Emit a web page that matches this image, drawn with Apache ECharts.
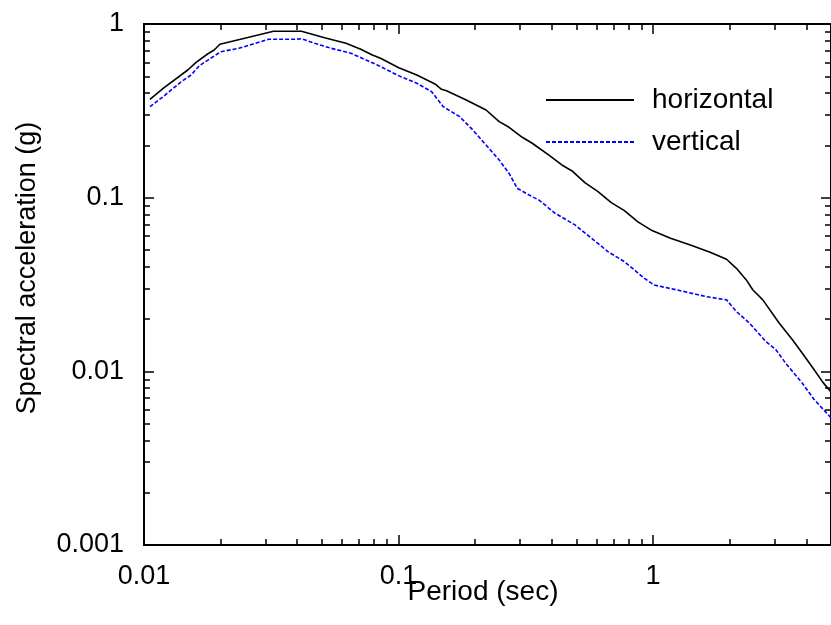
<!DOCTYPE html>
<html>
<head>
<meta charset="utf-8">
<script src="https://cdn.jsdelivr.net/npm/echarts@6/dist/echarts.min.js"></script>
<style>
html,body{margin:0;padding:0;background:#fff;}
#chart{width:831px;height:625px;}
</style>
</head>
<body>
<div id="chart"></div>
<script>
// ---- data ----
var hPeriod = [0.01055,0.01189,0.01486,0.01602,0.01777,0.01887,0.01986,0.02223,0.03227,0.04156,0.05123,0.06216,0.07108,0.07889,0.08498,0.1002,0.1180,0.1390,0.1475,0.1543,0.1845,0.2207,0.2485,0.2718,0.3063,0.3350,0.3886,0.4381,0.4790,0.5395,0.6076,0.6850,0.7716,0.8690,0.9797,1.171,1.401,1.675,1.943,2.125,2.324,2.467,2.698,3.132,3.528,3.858,4.219,4.656,5.0];
var hSa = [0.3685,0.4264,0.5435,0.6019,0.6719,0.7083,0.7640,0.7949,0.9079,0.9079,0.8338,0.7742,0.7150,0.6632,0.6348,0.5603,0.5086,0.4515,0.4207,0.4130,0.3651,0.3198,0.2739,0.2543,0.2227,0.2057,0.1762,0.1543,0.1430,0.1220,0.1083,0.0936,0.0842,0.0728,0.0652,0.0584,0.0534,0.0485,0.0442,0.0392,0.0336,0.0294,0.0258,0.0189,0.0152,0.0127,0.0106,0.00861,0.0076];
var vPeriod = [0.01055,0.01189,0.01401,0.01532,0.01650,0.01887,0.02004,0.02360,0.03086,0.03917,0.04156,0.04683,0.05434,0.06500,0.08253,0.09867,0.1180,0.1350,0.1498,0.1738,0.1959,0.2207,0.2485,0.2718,0.2929,0.3350,0.3554,0.4125,0.4934,0.5729,0.6645,0.7716,0.9226,1.009,1.243,1.625,1.943,2.125,2.395,2.779,3.039,3.324,3.858,4.284,5.0];
var vSa = [0.3341,0.3815,0.4655,0.5086,0.5754,0.6545,0.6925,0.7246,0.8164,0.8164,0.8232,0.7742,0.7246,0.6783,0.5807,0.5086,0.4557,0.4076,0.3341,0.2926,0.2453,0.2011,0.1648,0.1381,0.1132,0.1013,0.0970,0.0813,0.0697,0.0584,0.0489,0.0428,0.0344,0.0314,0.0294,0.0269,0.0258,0.0221,0.0189,0.0148,0.0133,0.0111,0.00854,0.00691,0.0054];

var seriesNames = ['horizontal','vertical'];
var xTickValues = [0.01,0.1,1];
var xTickLabels = ['0.01','0.1','1'];
var xMinorValues = [0.02,0.03,0.04,0.05,0.06,0.07,0.08,0.09,0.2,0.3,0.4,0.5,0.6,0.7,0.8,0.9,2,3,4];
var yTickValues = [0.001,0.01,0.1,1];
var yTickLabels = ['0.001','0.01','0.1','1'];
var yMinorValues = [0.002,0.003,0.004,0.005,0.006,0.007,0.008,0.009,0.02,0.03,0.04,0.05,0.06,0.07,0.08,0.09,0.2,0.3,0.4,0.5,0.6,0.7,0.8,0.9];
var xTitle = 'Period (sec)';
var yTitle = 'Spectral acceleration (g)';
var xMin = 0.01, xMax = 5, yMin = 0.001, yMax = 1;

// ---- build ----
var FONT = '"Liberation Sans", Arial, sans-serif';
function zip(a, b){ var r=[]; for (var i=0;i<a.length;i++) r.push([a[i], b[i]]); return r; }
function fmt(values, labels){
  return function(v){
    for (var i=0;i<values.length;i++){ if (Math.abs(Math.log10(v)-Math.log10(values[i]))<1e-6) return labels[i]; }
    return '';
  };
}
function xAx(pos, major, showLabel){
  return {
    type:'log', logBase:10, min:xMin, max:xMax, position:pos, gridIndex:0,
    axisLine:{show:true, onZero:false, lineStyle:{color:'#000', width:2}},
    axisTick:{show:true, inside:true, length: major?10:6, lineStyle:{color:'#000', width:1.5},
              customValues: major ? xTickValues : xMinorValues},
    axisLabel:{show:showLabel, customValues: xTickValues, formatter: fmt(xTickValues,xTickLabels),
               color:'#000', fontSize:27, fontFamily:FONT, margin:18},
    splitLine:{show:false}, minorTick:{show:false}, minorSplitLine:{show:false}
  };
}
function yAx(pos, major, showLabel){
  return {
    type:'log', logBase:10, min:yMin, max:yMax, position:pos, gridIndex:0,
    axisLine:{show:true, onZero:false, lineStyle:{color:'#000', width:2}},
    axisTick:{show:true, inside:true, length: major?10:6, lineStyle:{color:'#000', width:1.5},
              customValues: major ? yTickValues : yMinorValues},
    axisLabel:{show:showLabel, customValues: yTickValues, formatter: fmt(yTickValues,yTickLabels),
               color:'#000', fontSize:27, fontFamily:FONT, margin:20, padding:[0,0,8,0]},
    splitLine:{show:false}, minorTick:{show:false}, minorSplitLine:{show:false}
  };
}

var chart = echarts.init(document.getElementById('chart'), null, {renderer:'canvas'});
chart.setOption({
  animation:false,
  backgroundColor:'#fff',
  grid:{left:144, top:24, right:-7, bottom:80, containLabel:false},
  xAxis:[xAx('bottom',true,true), xAx('bottom',false,false), xAx('top',true,false), xAx('top',false,false)],
  yAxis:[yAx('left',true,true), yAx('left',false,false), yAx('right',true,false), yAx('right',false,false)],
  legend:{
    orient:'vertical', left:545, top:80, padding:0, itemWidth:88, itemHeight:28, itemGap:2,
    data:seriesNames,
    itemStyle:{opacity:0},
    textStyle:{fontSize:28, fontFamily:FONT, color:'#000', padding:[0,0,12,13], lineHeight:28},
    selectedMode:false
  },
  graphic:[
    {type:'text', x:483, y:592, style:{text:xTitle, font:'28px '+FONT, fill:'#000', textAlign:'center', textVerticalAlign:'middle'}},
    {type:'text', x:28, y:268, rotation:Math.PI/2, style:{text:yTitle, font:'27px '+FONT, fill:'#000', textAlign:'center', textVerticalAlign:'middle'}}
  ],
  series:[
    {name:seriesNames[0], type:'line', xAxisIndex:0, yAxisIndex:0, data:zip(hPeriod,hSa),
     showSymbol:false, symbol:'none', smooth:false,
     lineStyle:{color:'#000', width:1.6, type:'solid'}, itemStyle:{color:'#000'}},
    {name:seriesNames[1], type:'line', xAxisIndex:0, yAxisIndex:0, data:zip(vPeriod,vSa),
     showSymbol:false, symbol:'none', smooth:false,
     lineStyle:{color:'#0000ff', width:1.6, type:[4,2]}, itemStyle:{color:'#0000ff'}}
  ]
});
</script>
</body>
</html>
